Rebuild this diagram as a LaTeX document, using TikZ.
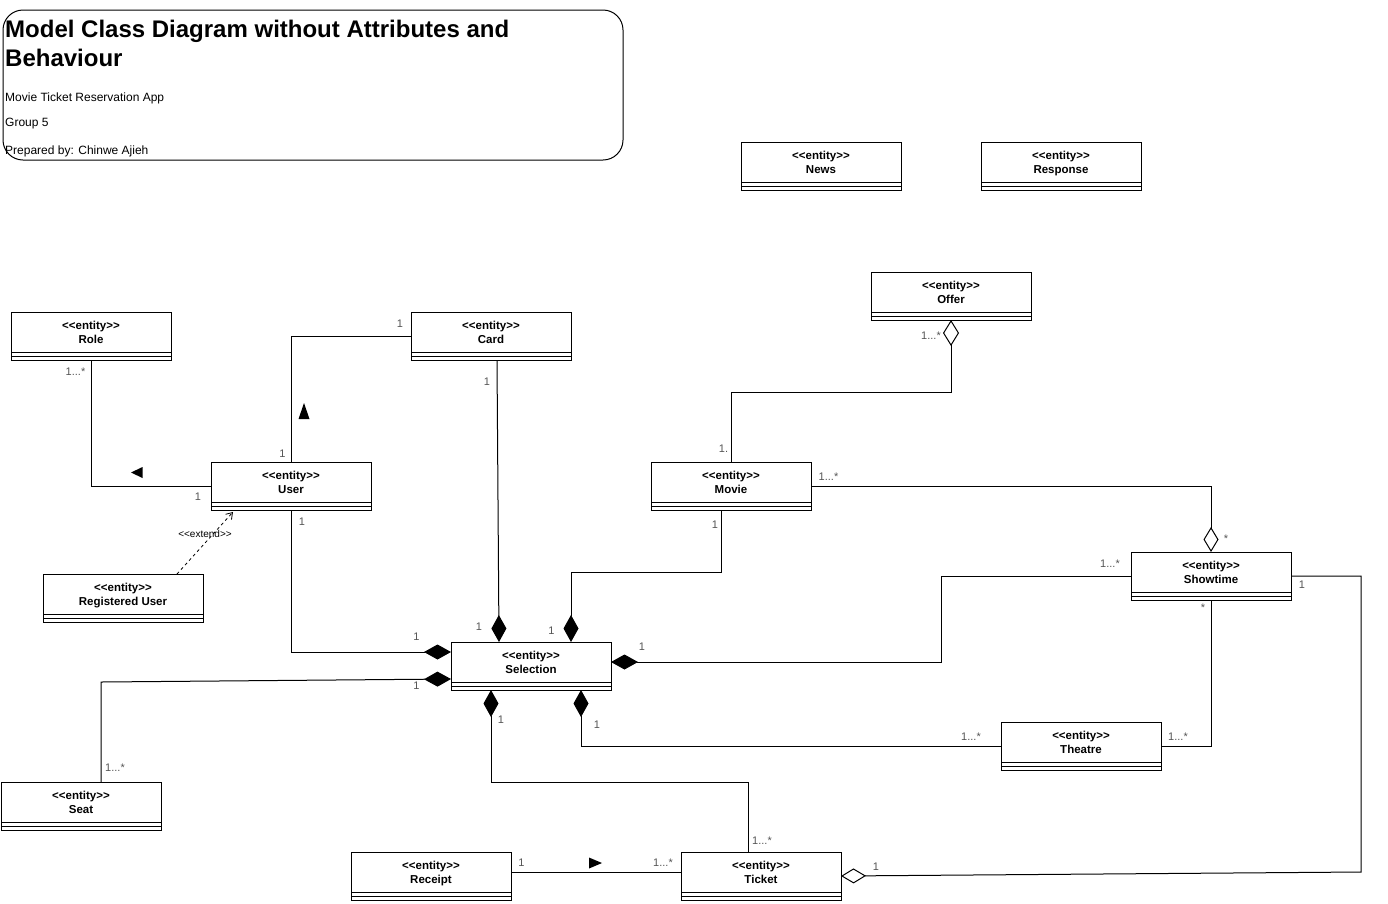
\documentclass[tikz,border=0pt]{standalone}
\usepackage{fontspec}
\setmainfont{Liberation Sans}[Ligatures=TeXOff]
\usepackage{tikz}
\usetikzlibrary{positioning,calc,arrows.meta}
\definecolor{lblgray}{HTML}{555555}
\tikzstyle{line} = [draw,line width=1pt]
\newcommand{\umlentity}[3]{%
  \node[klass] (#1) at (#2) {};
  \node[klasstext] (#1-txt) at ([yshift=-22pt]#1.north) {<<entity>>\\#3\vphantom{p}};
  \path [line] ([yshift=8pt]#1.south west) -- ([yshift=8pt]#1.south east)
               ([yshift=4pt]#1.south west) -- ([yshift=4pt]#1.south east);
}

\begin{document}
\begin{tikzpicture}[x=1pt,y=-1pt,
            klass/.style = {draw, line width=1pt, minimum width=160pt,
              minimum height=48pt, inner sep=0pt, outer sep=0pt},
            klasstext/.style = {align=center, inner sep=0pt,
              font=\fontsize{11.5}{14}\selectfont\bfseries},
            mult/.style = {inner sep=0pt, text=lblgray,
              font=\fontsize{11}{13}\selectfont},
            comp/.style = {-{Diamond[length=27pt,width=15pt]}},
            aggr/.style = {-{Diamond[open,length=25pt,width=15pt]}}]
            \useasboundingbox (0,0) rectangle (1388,903);
            % title block
            \node[draw, line width=1pt, rounded corners=20pt, minimum width=620pt,
              minimum height=150pt, inner sep=0pt, outer sep=0pt] (frame) at (313,85) {};
            \node[anchor=base west, inner sep=0pt, font=\fontsize{24}{29}\selectfont\bfseries] (title1) at (5,37.7) {Model Class Diagram without Attributes and};
            \node[anchor=base west, inner sep=0pt, font=\fontsize{24}{29}\selectfont\bfseries] (title2) at (5,66.7) {Behaviour};
            \node[anchor=base west, inner sep=0pt, font=\fontsize{12}{14}\selectfont] (sub1) at (5,101.5) {Movie Ticket Reservation App};
            \node[anchor=base west, inner sep=0pt, font=\fontsize{12}{14}\selectfont] (sub2) at (5,126.5) {Group 5};
            \node[anchor=base west, inner sep=0pt, font=\fontsize{12}{14}\selectfont] (sub3) at (5,154) {Prepared by: Chinwe Ajieh};
            % classes
            \umlentity{news}{821,166}{News}
            \umlentity{response}{1061,166}{Response}
            \umlentity{offer}{951,296}{Offer}
            \umlentity{role}{91,336}{Role}
            \umlentity{card}{491,336}{Card}
            \umlentity{user}{291,486}{User}
            \umlentity{movie}{731,486}{Movie}
            \umlentity{reguser}{123,598}{Registered User}
            \umlentity{showtime}{1211,576}{Showtime}
            \umlentity{selection}{531,666}{Selection}
            \umlentity{theatre}{1081,746}{Theatre}
            \umlentity{seat}{81,806}{Seat}
            \umlentity{receipt}{431,876}{Receipt}
            \umlentity{ticket}{761,876}{Ticket}
            % associations
            \path [line] (role.south) |- (user.west);
            \path [line] (card.west) -| (user.north);
            \path [line, comp] ([xshift=6pt]card.south) -- ([xshift=-32pt]selection.north);
            \path [line, comp] (user.south) |- ([yshift=14pt]selection.west);
            \path [line, comp] ([xshift=20pt]seat.north) -- ++(0,-100) -- ([yshift=-13pt]selection.west);
            \path [line, comp] ([xshift=-10pt]movie.south) -- ++(0,62) -| ([xshift=40pt]selection.north);
            \path [line, comp] (showtime.west) -- ++(-190,0) |- ([yshift=4pt]selection.east);
            \path [line, comp] (theatre.west) -| ([xshift=50pt]selection.south);
            \path [line, comp] ([xshift=-13pt]ticket.north) -- ++(0,-70) -| ([xshift=-40pt]selection.south);
            \path [line] ([yshift=4pt]receipt.east) -- ([yshift=4pt]ticket.west);
            \path [line, {Diamond[open,length=26pt,width=16pt]}-] (offer.south) -- ++(0,72) -| (movie.north);
            \path [line, aggr] (movie.east) -| (showtime.north);
            \path [line] (showtime.south) |- (theatre.east);
            \path [line, aggr] (showtime.east) -- ++(70,0) -- ++(0,296) -- (ticket.east);
            \path [draw, line width=0.8pt, dash pattern=on 3pt off 3pt, -{Straight Barb[length=6pt,width=8pt]}]
              ([xshift=54pt]reguser.north) -- ([xshift=-58pt,yshift=-2pt]user.south);
            \node[inner sep=0pt, font=\fontsize{10}{12}\selectfont] (extend) at (205,534) {<<extend>>};
            % direction marks
            \fill (131,472.5) -- (142.5,467) -- (142.5,478) -- cycle;
            \fill (304,403) -- (298.5,419) -- (309.5,419) -- cycle;
            \fill (602,863) -- (589,857.5) -- (589,868.5) -- cycle;
            % multiplicities
            \node[mult] (m1) at (75.5,372) {1...*};
            \node[mult] (m2) at (198,497) {1};
            \node[mult] (m3) at (400,324) {1};
            \node[mult] (m4) at (282.5,454) {1};
            \node[mult] (m5) at (302,522) {1};
            \node[mult] (m6) at (487,382) {1};
            \node[mult] (m7) at (479,627) {1};
            \node[mult] (m8) at (551.5,631) {1};
            \node[mult] (m9) at (416.5,637) {1};
            \node[mult] (m10) at (416.5,686) {1};
            \node[mult] (m11) at (642,647) {1};
            \node[mult] (m12) at (501,720) {1};
            \node[mult] (m13) at (597,725) {1};
            \node[mult] (m14) at (115,767.5) {1...*};
            \node[mult] (m15) at (521.5,862.5) {1};
            \node[mult] (m16) at (663,862.5) {1...*};
            \node[mult] (m17) at (762,840.5) {1...*};
            \node[mult] (m18) at (876,866.5) {1};
            \node[mult] (m19) at (971,737) {1...*};
            \node[mult] (m20) at (1178,737) {1...*};
            \node[mult] (m21) at (1110,564) {1...*};
            \node[mult] (m22) at (1302,585) {1};
            \node[mult] (m23) at (1203,608) {*};
            \node[mult] (m24) at (1226,539) {*};
            \node[mult] (m25) at (828.5,477) {1...*};
            \node[mult] (m26) at (715,525) {1};
            \node[mult] (m27) at (723.5,449) {1.};
            \node[mult] (m28) at (931,336) {1...*};
\end{tikzpicture}
\end{document}
